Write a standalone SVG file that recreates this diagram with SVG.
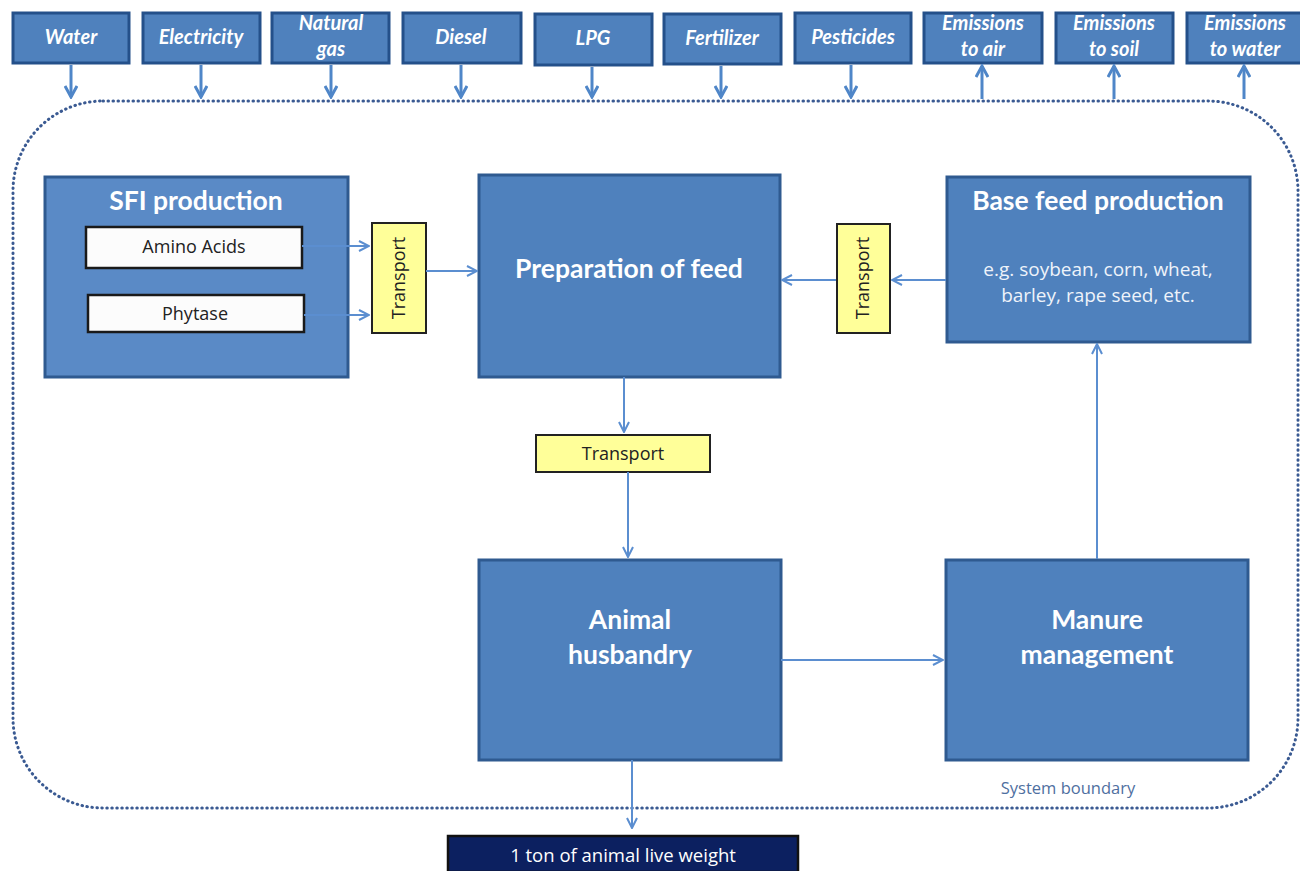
<svg xmlns="http://www.w3.org/2000/svg" width="1300" height="871" viewBox="0 0 1300 871">
<style>
.top rect{fill:#4f81bd;stroke:#24508a;stroke-width:3}
.top text{font-family:Lato,"Liberation Sans",sans-serif;font-style:italic;font-weight:bold;font-size:20px;fill:#fff;text-anchor:middle}
.big rect{fill:#4f81bd;stroke:#2f5a90;stroke-width:3}
.big text{font-family:Lato,"Open Sans",sans-serif;font-weight:bold;font-size:26.5px;fill:#fff;text-anchor:middle}
.big text.sub{font-family:"Open Sans",sans-serif;font-weight:normal;font-size:19px;fill:#eef3fa}
.white rect{fill:#fcfcfc;stroke:#1a1a1a;stroke-width:2.5}
.white text{font-family:"Open Sans",sans-serif;font-size:18px;fill:#222;text-anchor:middle}
.tr rect{fill:#ffff99;stroke:#222;stroke-width:2}
.tr text{font-family:"Open Sans",sans-serif;font-size:18px;fill:#222;text-anchor:middle}
.conn line{stroke:#5b8ed0;stroke-width:2;fill:none}
.topc line{stroke:#4f86c8;stroke-width:3;fill:none}
</style>
<defs>
<marker id="a" viewBox="0 0 12 12" refX="11" refY="6" markerWidth="12" markerHeight="12" markerUnits="userSpaceOnUse" orient="auto">
<path d="M1,1 L11,6 L1,11" fill="none" stroke="#5b8ed0" stroke-width="2"/>
</marker>
<marker id="b" viewBox="0 0 14 14" refX="12" refY="7" markerWidth="14" markerHeight="14" markerUnits="userSpaceOnUse" orient="auto">
<path d="M1,1 L12,7 L1,13" fill="none" stroke="#4f86c8" stroke-width="3"/>
</marker>
</defs>
<rect width="1300" height="871" fill="#fff"/>

<g id="boundary">
<rect x="13" y="101" width="1285" height="707" rx="90" ry="90" fill="none" stroke="#3a5a92" stroke-width="3" stroke-dasharray="0.5 4.5" stroke-linecap="round"/>
<text x="1068" y="794" font-family="'Open Sans',sans-serif" font-size="16.5" fill="#4f6f9f" text-anchor="middle">System boundary</text>
</g>

<g id="water" class="top"><rect x="13" y="13" width="116" height="50"/><text x="71" y="44">Water</text></g>
<g id="electricity" class="top"><rect x="143" y="13" width="117" height="50"/><text x="201" y="44">Electricity</text></g>
<g id="natural-gas" class="top"><rect x="272" y="13" width="117" height="50"/><text x="331" y="30">Natural</text><text x="331" y="56">gas</text></g>
<g id="diesel" class="top"><rect x="403" y="13" width="118" height="50"/><text x="461" y="44">Diesel</text></g>
<g id="lpg" class="top"><rect x="535" y="14" width="117" height="51"/><text x="593" y="45">LPG</text></g>
<g id="fertilizer" class="top"><rect x="664" y="14" width="117" height="50"/><text x="722" y="45">Fertilizer</text></g>
<g id="pesticides" class="top"><rect x="795" y="13" width="116" height="50"/><text x="853" y="44">Pesticides</text></g>
<g id="emissions-air" class="top"><rect x="924" y="13" width="118" height="50"/><text x="983" y="30">Emissions</text><text x="983" y="56">to air</text></g>
<g id="emissions-soil" class="top"><rect x="1056" y="13" width="117" height="50"/><text x="1114" y="30">Emissions</text><text x="1114" y="56">to soil</text></g>
<g id="emissions-water" class="top"><rect x="1187" y="13" width="115" height="50"/><text x="1245" y="30">Emissions</text><text x="1245" y="56">to water</text></g>

<g id="top-connectors" class="topc">
<line x1="71" y1="65" x2="71" y2="97" marker-end="url(#b)"/>
<line x1="201" y1="65" x2="201" y2="97" marker-end="url(#b)"/>
<line x1="331" y1="65" x2="331" y2="97" marker-end="url(#b)"/>
<line x1="461" y1="65" x2="461" y2="97" marker-end="url(#b)"/>
<line x1="592" y1="67" x2="592" y2="97" marker-end="url(#b)"/>
<line x1="721" y1="66" x2="721" y2="97" marker-end="url(#b)"/>
<line x1="851" y1="65" x2="851" y2="97" marker-end="url(#b)"/>
<line x1="982" y1="99" x2="982" y2="66" marker-end="url(#b)"/>
<line x1="1114" y1="99" x2="1114" y2="66" marker-end="url(#b)"/>
<line x1="1244" y1="99" x2="1244" y2="66" marker-end="url(#b)"/>
</g>

<g id="sfi" class="big">
<rect x="45" y="177" width="303" height="200" style="fill:#5a8ac6"/>
<text x="196" y="210">SFI production</text>
</g>
<g id="amino" class="white"><rect x="86" y="227" width="216" height="41"/><text x="194" y="253">Amino Acids</text></g>
<g id="phytase" class="white"><rect x="88" y="295" width="216" height="37"/><text x="195" y="320">Phytase</text></g>

<g id="transport-left" class="tr"><rect x="372" y="223" width="54" height="110"/><text transform="translate(405,278) rotate(-90)">Transport</text></g>

<g id="prep" class="big">
<rect x="479" y="175" width="301" height="202"/>
<text x="629" y="278">Preparation of feed</text>
</g>

<g id="transport-right" class="tr"><rect x="837" y="224" width="53" height="109"/><text transform="translate(869,278) rotate(-90)">Transport</text></g>

<g id="base" class="big">
<rect x="947" y="177" width="303" height="165"/>
<text x="1098" y="210">Base feed production</text>
<text class="sub" x="1098" y="276">e.g. soybean, corn, wheat,</text>
<text class="sub" x="1098" y="302">barley, rape seed, etc.</text>
</g>

<g id="transport-mid" class="tr"><rect x="536" y="435" width="174" height="37"/><text x="623" y="460">Transport</text></g>

<g id="animal" class="big">
<rect x="479" y="560" width="302" height="200"/>
<text x="630" y="629">Animal</text>
<text x="630" y="664">husbandry</text>
</g>

<g id="manure" class="big">
<rect x="946" y="560" width="302" height="200"/>
<text x="1097" y="629">Manure</text>
<text x="1097" y="664">management</text>
</g>

<g id="output">
<rect x="448" y="836" width="350" height="36" fill="#0c2060" stroke="#111" stroke-width="2.5"/>
<text x="623" y="862" font-family="'Open Sans',sans-serif" font-size="18.5" fill="#fff" text-anchor="middle">1 ton of animal live weight</text>
</g>

<g id="connectors" class="conn">
<line x1="302" y1="246" x2="369" y2="246" marker-end="url(#a)"/>
<line x1="304" y1="315" x2="369" y2="315" marker-end="url(#a)"/>
<line x1="426" y1="271" x2="477" y2="271" marker-end="url(#a)"/>
<line x1="946" y1="280" x2="892" y2="280" marker-end="url(#a)"/>
<line x1="836" y1="280" x2="782" y2="280" marker-end="url(#a)"/>
<line x1="624" y1="377" x2="624" y2="432" marker-end="url(#a)"/>
<line x1="628" y1="472" x2="628" y2="557" marker-end="url(#a)"/>
<line x1="781" y1="660" x2="943" y2="660" marker-end="url(#a)"/>
<line x1="1097" y1="559" x2="1097" y2="344" marker-end="url(#a)"/>
<line x1="632" y1="760" x2="632" y2="828" marker-end="url(#a)"/>
</g>
</svg>
